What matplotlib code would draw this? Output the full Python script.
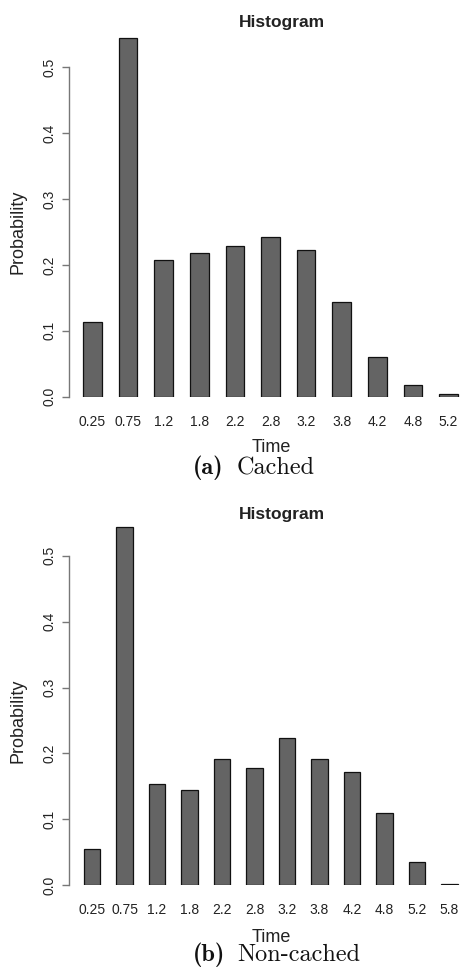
import matplotlib.pyplot as plt
import numpy as np

plt.rcParams['font.family'] = ['Liberation Sans', 'DejaVu Sans']

# cached run
cached_bins = ["0.25", "0.75", "1.2", "1.8", "2.2", "2.8", "3.2", "3.8", "4.2", "4.8", "5.2"]
cached_prob = [0.113, 0.544, 0.208, 0.218, 0.228, 0.242, 0.223, 0.143, 0.060, 0.018, 0.004]

# non-cached run
noncached_bins = ["0.25", "0.75", "1.2", "1.8", "2.2", "2.8", "3.2", "3.8", "4.2", "4.8", "5.2", "5.8"]
noncached_prob = [0.055, 0.543, 0.154, 0.145, 0.191, 0.178, 0.223, 0.191, 0.172, 0.110, 0.035, 0.002]

y_ticks = [0.0, 0.1, 0.2, 0.3, 0.4, 0.5]

W, H = 463, 973
fig = plt.figure(figsize=(W / 100, H / 100), dpi=100)


def px(x, y):
    return x / W, 1 - y / H


def draw_hist(bins, probs, left, right, base_y, top_y, first_c, pitch, title_y, time_y, cap_y, cap_tag, cap_text):
    # axes placed in pixel space
    x0, y0 = px(left, base_y)
    x1, y1 = px(right, top_y)
    ax = fig.add_axes([x0, y0, x1 - x0, y1 - y0])
    idx = np.arange(len(bins))
    ax.bar(idx, probs, width=0.52, color="#646464", edgecolor="#111111", linewidth=0.9)
    ax.set_xlim((left - first_c) / pitch, (right - first_c) / pitch)
    ax.set_ylim(0, (base_y - top_y) / 659.0)
    for s in ["top", "right", "bottom"]:
        ax.spines[s].set_visible(False)
    ax.spines["left"].set_bounds(0, 0.5)
    ax.spines["left"].set_color("#777777")
    ax.spines["left"].set_linewidth(1.0)
    ax.set_yticks(y_ticks)
    ax.set_yticklabels(["%.1f" % v for v in y_ticks], rotation=90, va="center")
    ax.tick_params(axis="y", length=5, width=1.0, color="#777777", labelsize=10, pad=4, labelcolor="#222222")
    ax.set_xticks(idx)
    ax.set_xticklabels(bins)
    ax.tick_params(axis="x", length=0, labelsize=10, pad=13, labelcolor="#222222")

    tx, ty = px(282, title_y)
    fig.text(tx, ty, "Histogram", ha="center", va="center", fontsize=12.5, fontweight="bold", color="#222222")
    lx, ly = px(17.5, (base_y + (base_y - 0.5 * 659)) / 2)
    fig.text(lx, ly, "Probability", ha="center", va="center", rotation=90, fontsize=13, color="#222222")
    tx, ty = px(271, time_y)
    fig.text(tx, ty, "Time", ha="center", va="center", fontsize=13, color="#222222")
    cx, cy = px(193, cap_y)
    fig.text(cx, cy, cap_tag, ha="left", va="center", fontsize=17.5, fontfamily="cmb10", color="#111111")
    cx, cy = px(237, cap_y)
    fig.text(cx, cy, cap_text, ha="left", va="center", fontsize=17.5, fontfamily="cmr10", color="#111111")


draw_hist(cached_bins, cached_prob, 69, 463, 396.7, 34, 92.5, 35.6, 23, 447, 468, "(a)", "Cached")
draw_hist(noncached_bins, noncached_prob, 69, 463, 885.3, 522, 92, 32.5, 515, 937, 955, "(b)", "Non-cached")

fig.savefig("out.png", dpi=100)
